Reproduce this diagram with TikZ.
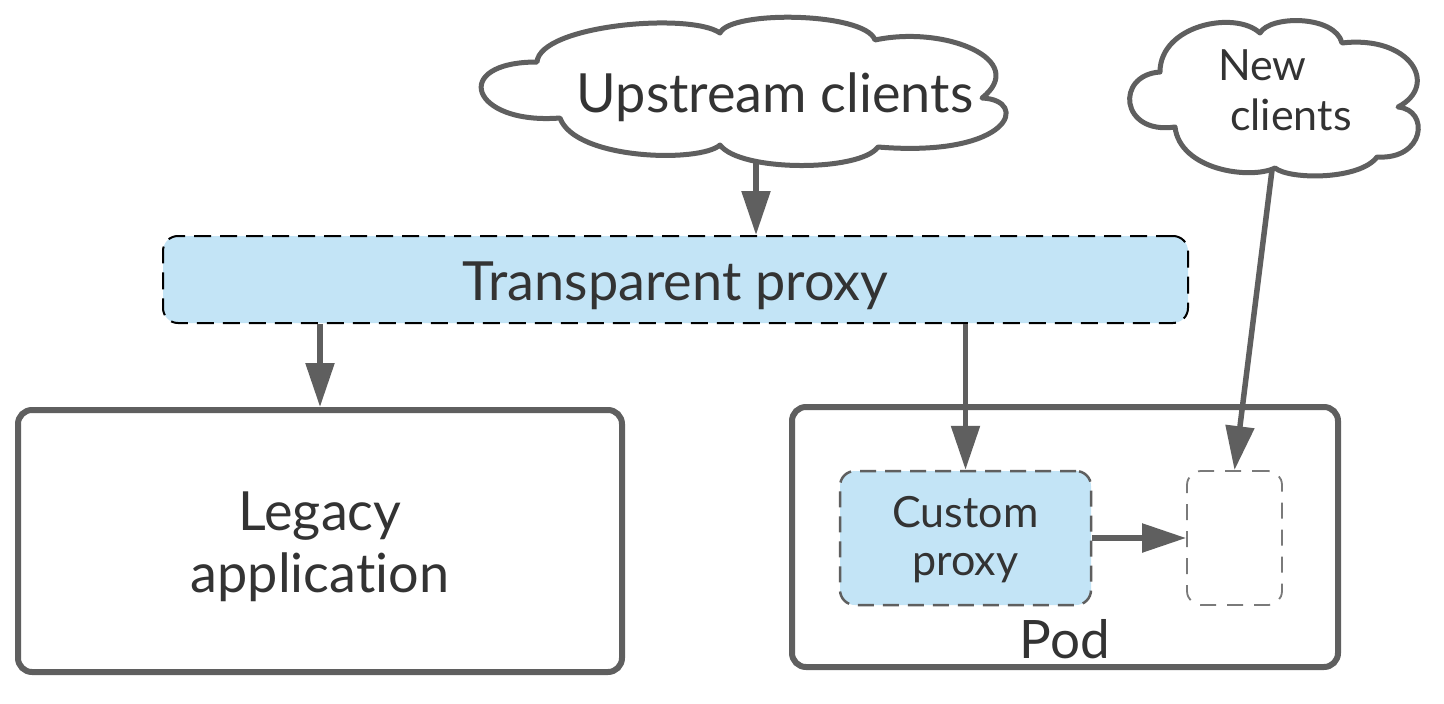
\documentclass[tikz,border=0pt]{standalone}
\usepackage{fontspec}
\setmainfont{Lato}[Ligatures=NoCommon]
\usetikzlibrary{arrows.meta}
\definecolor{lineg}{HTML}{5F5F5F}
\definecolor{txtg}{HTML}{333333}
\definecolor{pblue}{HTML}{C3E4F6}
\definecolor{lightg}{HTML}{7A7A7A}
\begin{document}
\begin{tikzpicture}[x=1pt,y=-1pt,
  every node/.style={text=txtg,inner sep=0pt},
  solidbox/.style={draw=lineg,line width=6pt,rounded corners=14pt,fill=white},
  cloudline/.style={draw=lineg,line width=5pt,fill=white,line join=round},
  conn/.style={draw=lineg,line width=5.5pt,-{Triangle[length=44pt,width=28pt]}},
  lbl/.style={anchor=base,align=center},
]
\useasboundingbox (0,0) rectangle (1444,704);
% Upstream clients cloud
\path[cloudline] (560,118)
  .. controls (470,125) and (450,62) .. (537,62)
  .. controls (540,25) and (690,12) .. (720,33)
  .. controls (730,10) and (865,12) .. (875,40)
  .. controls (945,25) and (1030,60) .. (982,98)
  .. controls (1030,100) and (1012,158) .. (878,147)
  .. controls (860,172) and (740,172) .. (720,145)
  .. controls (700,163) and (575,160) .. cycle;
\node[lbl,font=\fontsize{54}{60}\selectfont] (upt) at (775,112) {Upstream clients};
\coordinate (upb) at (756,162);
% New clients cloud
\path[cloudline] (1175,127)
  .. controls (1120,135) and (1115,75) .. (1160,72)
  .. controls (1160,25) and (1235,10) .. (1260,33)
  .. controls (1270,15) and (1335,15) .. (1342,43)
  .. controls (1410,35) and (1440,85) .. (1398,107)
  .. controls (1430,110) and (1425,160) .. (1377,157)
  .. controls (1360,180) and (1290,180) .. (1275,168)
  .. controls (1250,180) and (1180,170) .. cycle;
\node[anchor=base west,align=left,font=\fontsize{43}{50}\selectfont] (newt) at (1218,130) {New\\\hspace*{12pt}clients};
\coordinate (newb) at (1272,170);
% transparent proxy
\node[draw=black,line width=2pt,dash pattern=on 17pt off 9pt,rounded corners=15pt,fill=pblue,
  minimum width=1025pt,minimum height=87pt] (tp) at (675.5,279.5) {};
\node[lbl,font=\fontsize{54}{60}\selectfont] (tpt) at (675.5,300) {Transparent proxy};
% legacy
\node[solidbox,minimum width=604pt,minimum height=262pt] (legacy) at (320,541) {};
\node[lbl,font=\fontsize{54}{62}\selectfont] (legt) at (320,592) {Legacy\\application};
% pod
\node[solidbox,minimum width=546pt,minimum height=260pt] (pod) at (1065,537) {};
\node[lbl,font=\fontsize{53}{60}\selectfont] (podt) at (1065,658) {Pod};
% custom proxy
\node[draw=lineg,line width=2.5pt,dash pattern=on 16pt off 9pt,rounded corners=15pt,fill=pblue,
  minimum width=251pt,minimum height=134pt] (cp) at (965.5,538) {};
\node[lbl,font=\fontsize{43}{48}\selectfont] (cpt) at (965.5,575) {Custom\\proxy};
% empty box
\node[draw=lightg,line width=1.8pt,dash pattern=on 16pt off 11pt,rounded corners=14pt,
  minimum width=95pt,minimum height=134pt] (eb) at (1234.5,538) {};
% connectors
\draw[conn] (upb) -- (upb |- tp.north);
\draw[conn] (tp.south -| legacy) -- (legacy.north);
\draw[conn] (tp.south -| cp) -- (cp.north);
\draw[conn] (newb) -- (eb.north);
\draw[conn] (cp.east) -- (eb.west);
\end{tikzpicture}
\end{document}
